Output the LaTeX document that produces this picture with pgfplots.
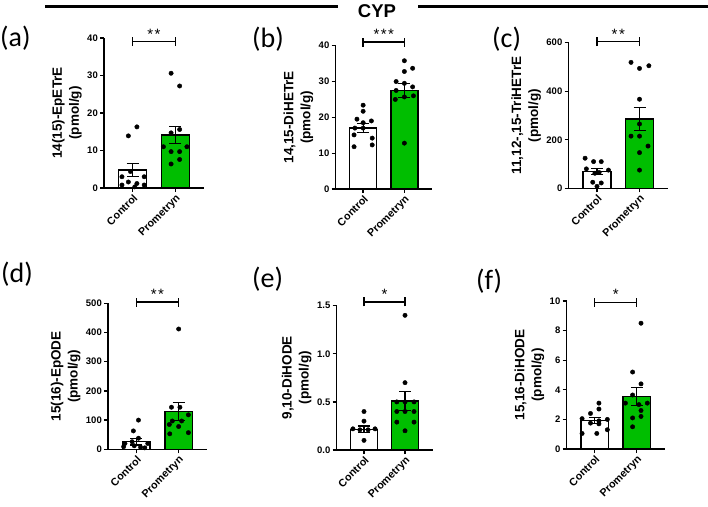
\documentclass[border=0pt]{standalone}
\usepackage{fontspec}
\setmainfont{Liberation Sans}
\newfontfamily\panelfont{Carlito}
\usepackage{pgfplots}
\pgfplotsset{compat=1.18}

\definecolor{prgreen}{RGB}{0,190,0}

\pgfplotsset{
  panel/.style={
    scale only axis,
    axis x line*=bottom, axis y line*=left,
    axis line style={line width=1.3pt, black},
    every tick/.style={line width=1.3pt, black},
    tick align=outside, major tick length=4pt,
    xmin=-0.67, xmax=1.67, ymin=0,
    xtick={0,1}, xticklabels={Control,Prometryn},
    xticklabel style={rotate=45, anchor=north east, inner sep=1pt,
      font=\bfseries\fontsize{10.7}{12}\selectfont},
    yticklabel style={font=\bfseries\fontsize{9.5}{10}\selectfont, inner sep=2pt},
    ylabel style={align=center, font=\bfseries\fontsize{13.5}{17}\selectfont},
    /pgf/number format/assume math mode=true,
    clip=false,
    anchor=south west,
  },
  ctrlbar/.style={ybar, bar shift=0pt, bar width=0.65, fill=white, draw=black,
    line width=1.5pt,
    error bars/y dir=both, error bars/y explicit,
    error bars/error bar style={line width=1.2pt, black},
    error bars/error mark options={rotate=90, mark size=6pt, line width=1.2pt, black}},
  prombar/.style={ctrlbar, fill=prgreen},
  dots/.style={only marks, mark=*, mark size=2.2pt, black},
}

% significance bracket between the two groups: height, stars
\newcommand{\sig}[2]{%
  \draw[line width=1.3pt] (axis cs:0,#1) -- (axis cs:1,#1);
  \draw[line width=1.3pt] ([yshift=-4.5pt]axis cs:0,#1) -- ([yshift=4.5pt]axis cs:0,#1);
  \draw[line width=1.3pt] ([yshift=-4.5pt]axis cs:1,#1) -- ([yshift=4.5pt]axis cs:1,#1);
  \node[anchor=base, inner sep=0pt, font=\fontsize{15}{15}\selectfont]
    at ([yshift=2.5pt]axis cs:0.5,#1) {#2};
}
\newcommand{\st}{*\kern1.5pt}

\begin{document}
\begin{tikzpicture}[x=1pt, y=1pt]
\useasboundingbox (0,0) rectangle (708,506);

% header
\draw[line width=3pt] (45,499) -- (338,499);
\draw[line width=3pt] (418,499) -- (708,499);
\node[font=\bfseries\fontsize{18.5}{18.5}\selectfont] at (377,495) {CYP};

% panel letters
\node[font=\panelfont\fontsize{28}{28}\selectfont, anchor=west, inner sep=0pt] at (0,468) {(a)};
\node[font=\panelfont\fontsize{28}{28}\selectfont, anchor=west, inner sep=0pt] at (252,467) {(b)};
\node[font=\panelfont\fontsize{28}{28}\selectfont, anchor=west, inner sep=0pt] at (492,467) {(c)};
\node[font=\panelfont\fontsize{28}{28}\selectfont, anchor=west, inner sep=0pt] at (1,232) {(d)};
\node[font=\panelfont\fontsize{28}{28}\selectfont, anchor=west, inner sep=0pt] at (252,227) {(e)};
\node[font=\panelfont\fontsize{28}{28}\selectfont, anchor=west, inner sep=0pt] at (476,225) {(f)};

% (a) 14(15)-EpETrE
\begin{axis}[panel, at={(104pt,318pt)}, width=100pt, height=150pt,
  ymax=40, ytick={0,10,20,30,40},
  ylabel={14(15)-EpETrE\\(pmol/g)}]
\addplot[ctrlbar] coordinates {(0,4.8) +- (0,1.8)};
\addplot[prombar] coordinates {(1,14.1) +- (0,2.3)};
\addplot[dots] coordinates {(0.1,16.3) (-0.1,13.9) (-0.05,4.4) (-0.25,3.0) (0.27,3.0)
  (-0.1,1.6) (0.1,1.2) (-0.25,0.8) (0.27,0.8) (0.05,0.3)};
\addplot[dots] coordinates {(0.9,30.6) (1.1,27.2) (1.1,15.6) (0.9,14.7) (0.72,11.0)
  (1.27,11.0) (0.9,9.7) (1.1,9.7) (1.1,7.6) (0.9,6.4)};
\sig{39}{\st*}
\end{axis}

% (b) 14,15-DiHETrE
\begin{axis}[panel, at={(335.5pt,317pt)}, width=96.5pt, height=143.3pt,
  ymax=40, ytick={0,10,20,30,40},
  ylabel={14,15-DiHETrE\\(pmol/g)}]
\addplot[ctrlbar] coordinates {(0,17.0) +- (0,1.2)};
\addplot[prombar] coordinates {(1,27.5) +- (0,2.0)};
\addplot[dots] coordinates {(0,23.4) (0,21.7) (-0.15,19.5) (0.2,19.0) (0,18.5) (-0.2,17.0)
  (0,17.0) (-0.22,15.1) (0.22,14.2) (0.22,12.3) (-0.22,11.8)};
\addplot[dots] coordinates {(1,35.8) (1.2,33.7) (1,32.8) (0.8,30.0) (1,29.5) (1.2,28.5)
  (0.8,27.5) (1.22,26.0) (1,25.7) (0.78,25.0) (1,12.8)};
\sig{41}{\st\st*}
\end{axis}

% (c) 11,12-,15-TriHETrE
\begin{axis}[panel, at={(568.5pt,317.7pt)}, width=99.5pt, height=145.6pt,
  ymax=600, ytick={0,200,400,600},
  ylabel={11,12-,15-TriHETrE\\(pmol/g)}]
\addplot[ctrlbar] coordinates {(0,70) +- (0,12)};
\addplot[prombar] coordinates {(1,285) +- (0,48)};
\addplot[dots] coordinates {(-0.28,124) (-0.08,110) (0.1,110) (-0.25,80) (0.27,75)
  (0.05,65) (-0.05,62) (-0.1,25) (0.1,22) (0,8)};
\addplot[dots] coordinates {(0.8,519) (1.22,505) (1,494) (1,367) (1,265) (0.8,215)
  (1,215) (1.2,174) (1,147) (1,75)};
\sig{604}{\st*}
\end{axis}

% (d) 15(16)-EpODE
\begin{axis}[panel, at={(108pt,56.7pt)}, width=99pt, height=146pt,
  ymax=500, ytick={0,100,200,300,400,500},
  ylabel={15(16)-EpODE\\(pmol/g)}]
\addplot[ctrlbar] coordinates {(0,26) +- (0,11)};
\addplot[prombar] coordinates {(1,129) +- (0,30)};
\addplot[dots] coordinates {(0.05,100) (-0.07,63) (0.05,38) (-0.1,26) (-0.27,20) (0.27,20)
  (-0.05,12) (-0.3,9) (0.1,7) (0.2,5)};
\addplot[dots] coordinates {(1,412) (0.83,144) (1.03,144) (1.23,118) (0.85,97) (1.07,97)
  (0.78,85) (1.0,78) (0.79,53) (1.23,57)};
\sig{504}{\st*}
\end{axis}

% (e) 9,10-DiHODE
\begin{axis}[panel, at={(336.5pt,56pt)}, width=96pt, height=144.3pt,
  ymax=1.5, ytick={0,0.5,1.0,1.5},
  yticklabel style={/pgf/number format/.cd, fixed, fixed zerofill, precision=1},
  ylabel={9,10-DiHODE\\(pmol/g)}]
\addplot[ctrlbar] coordinates {(0,0.215) +- (0,0.035)};
\addplot[prombar] coordinates {(1,0.51) +- (0,0.10)};
\addplot[dots] coordinates {(0,0.40) (0,0.30) (-0.27,0.22) (-0.1,0.21) (0.1,0.21)
  (0.27,0.22) (0,0.10)};
\addplot[dots] coordinates {(1,1.40) (1,0.70) (0.8,0.50) (1.22,0.50) (1,0.50) (0.8,0.40)
  (1,0.40) (1.22,0.40) (0.8,0.29) (1.22,0.29) (1,0.20)};
\sig{1.54}{*}
\end{axis}

% (f) 15,16-DiHODE
\begin{axis}[panel, at={(566.5pt,57pt)}, width=98.5pt, height=148pt,
  ymax=10, ytick={0,2,4,6,8,10},
  ylabel={15,16-DiHODE\\(pmol/g)}]
\addplot[ctrlbar] coordinates {(0,1.91) +- (0,0.2)};
\addplot[prombar] coordinates {(1,3.56) +- (0,0.6)};
\addplot[dots] coordinates {(0.1,3.1) (0.1,2.7) (-0.1,2.4) (-0.3,2.05) (0.3,2.0) (0.1,1.9)
  (-0.1,1.75) (0.1,1.7) (0.3,1.3) (-0.3,1.05) (0.05,1.05)};
\addplot[dots] coordinates {(1.1,8.5) (0.9,5.2) (1.1,4.4) (0.9,3.65) (1.25,3.1) (0.73,3.1)
  (1.05,3.0) (1.1,2.6) (0.9,2.1) (1.1,2.2) (0.9,1.5)};
\sig{9.9}{*}
\end{axis}
\end{tikzpicture}
\end{document}
